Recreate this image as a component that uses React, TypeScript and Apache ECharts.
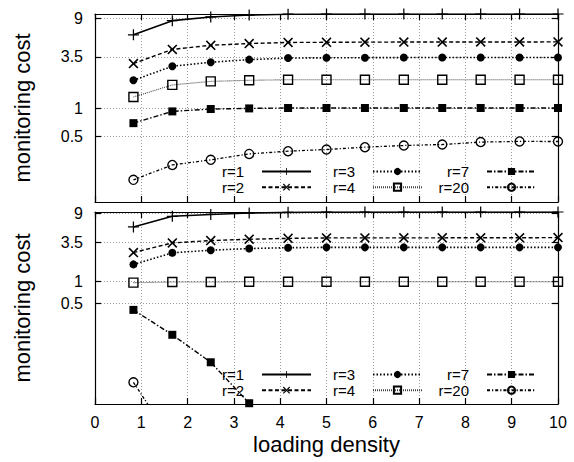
import { useEffect, useRef } from "react";
import * as echarts from "echarts";

// ---------- data ----------
const xValues = [0.83, 1.67, 2.5, 3.33, 4.17, 5, 5.83, 6.67, 7.5, 8.33, 9.17, 10];
const seriesNames = ["r=1", "r=2", "r=3", "r=4", "r=7", "r=20"];

const topR1 = [6.0, 8.5, 9.3, 9.75, 9.95, 10, 10, 10, 10, 10, 10, 10];
const topR2 = [2.97, 4.2, 4.65, 4.85, 4.98, 5.0, 5.02, 5.03, 5.03, 5.04, 5.04, 5.05];
const topR3 = [1.97, 2.78, 3.07, 3.27, 3.4, 3.42, 3.43, 3.44, 3.44, 3.45, 3.45, 3.45];
const topR4 = [1.31, 1.76, 1.92, 1.97, 2.0, 2.0, 2.0, 2.0, 2.0, 2.0, 2.0, 2.0];
const topR7 = [0.69, 0.92, 0.975, 0.99, 1.0, 1.0, 1.0, 1.0, 1.0, 1.0, 1.0, 1.0];
const topR20 = [0.172, 0.248, 0.281, 0.325, 0.347, 0.362, 0.383, 0.399, 0.409, 0.434, 0.441, 0.44];

const botR1 = [5.76, 8.1, 8.6, 9.0, 9.2, 9.3, 9.3, 9.3, 9.3, 9.3, 9.3, 9.3];
const botR2 = [2.54, 3.46, 3.73, 3.89, 4.0, 4.06, 4.06, 4.07, 4.07, 4.08, 4.08, 4.1];
const botR3 = [1.74, 2.52, 2.74, 2.89, 2.97, 3.0, 3.0, 3.0, 3.0, 3.0, 3.0, 3.0];
const botR4 = [0.97, 0.99, 0.99, 1.0, 1.0, 1.0, 1.0, 1.0, 1.0, 1.0, 1.0, 1.0];
const botR7 = [0.406, 0.183, 0.076, 0.0205];
const botR20 = [0.04, 0.006];

const yTickValues = [0.5, 1, 3.5, 9];
const topRange = [0.1, 10];
const bottomRange = [0.02, 9.3];

// ---------- styles ----------
const FONT = "'Liberation Sans', Arial, Helvetica, sans-serif";
const PLUS = "path://M-0.9,-8L0.9,-8L0.9,-0.9L8,-0.9L8,0.9L0.9,0.9L0.9,8L-0.9,8L-0.9,0.9L-8,0.9L-8,-0.9L-0.9,-0.9Z";
const CROSS =
  "path://M-8,-6.2L-6.2,-8L0,-1.8L6.2,-8L8,-6.2L1.8,0L8,6.2L6.2,8L0,1.8L-6.2,8L-8,6.2L-1.8,0Z";

const hollow = { color: "rgba(255,255,255,0)", borderColor: "#000", borderWidth: 1.4 };
const filled = { color: "#000" };

const seriesStyles: any[] = [
  { symbol: PLUS, symbolSize: 11, itemStyle: filled, lineStyle: { type: "solid", width: 1.6, color: "#000" } },
  { symbol: CROSS, symbolSize: 10, itemStyle: filled, lineStyle: { type: [4, 2.5], width: 1.4, color: "#000" } },
  { symbol: "circle", symbolSize: 8, itemStyle: filled, lineStyle: { type: [1.5, 2], width: 1.6, color: "#000" } },
  { symbol: "rect", symbolSize: 9, itemStyle: hollow, lineStyle: { type: [1, 1], width: 1.1, color: "#444" } },
  { symbol: "rect", symbolSize: 8, itemStyle: filled, lineStyle: { type: [5, 2, 1.5, 2], width: 1.4, color: "#000" } },
  { symbol: "circle", symbolSize: 9, itemStyle: hollow, lineStyle: { type: [3, 2, 1.2, 2], width: 1.3, color: "#000" } },
];

const toPairs = (vals: number[]) => vals.map((v, i) => [xValues[i], v]);

export default function App() {
  const ref = useRef<HTMLDivElement>(null);

  useEffect(() => {
    if (!ref.current) return;
    const chart = echarts.init(ref.current, undefined, { renderer: "svg" });

    const grids = [
      { left: 95, right: 16, top: 14, height: 188 },
      { left: 95, right: 16, top: 212, height: 192 },
    ];

    const splitLine = { show: true, lineStyle: { color: "#999", type: [1, 2], width: 1 } };
    const axisLine = { show: true, onZero: false, lineStyle: { color: "#000", width: 1.2 } };
    const tick = { show: true, inside: true, length: 6, lineStyle: { color: "#000", width: 1.2 } };

    const xAxisBase = (gridIndex: number, position: string) => ({
      type: "value",
      gridIndex,
      position,
      min: 0,
      max: 10,
      interval: 1,
      axisLine,
      axisTick: tick,
    });

    const xAxis: any[] = [
      { ...xAxisBase(0, "bottom"), axisLabel: { show: false }, splitLine },
      {
        ...xAxisBase(1, "bottom"),
        splitLine,
        axisLabel: { show: true, color: "#000", fontSize: 16, fontFamily: FONT, margin: 10 },
        name: "loading density",
        nameLocation: "middle",
        nameGap: 29,
        nameTextStyle: { color: "#000", fontSize: 22, fontFamily: FONT },
      },
      { ...xAxisBase(0, "top"), axisLabel: { show: false }, splitLine: { show: false } },
      { ...xAxisBase(1, "top"), axisLabel: { show: false }, splitLine: { show: false } },
    ];

    const yAxisBase = (gridIndex: number, position: string, range: number[]) => ({
      type: "log",
      logBase: 10,
      gridIndex,
      position,
      min: range[0],
      max: range[1],
      axisLine,
      axisTick: { ...tick, customValues: yTickValues },
      minorTick: { show: false },
    });

    const yName = {
      name: "monitoring cost",
      nameLocation: "middle",
      nameGap: 62,
      nameTextStyle: { color: "#000", fontSize: 22, fontFamily: FONT },
    };
    const yLabel = {
      show: true,
      customValues: yTickValues,
      color: "#000",
      fontSize: 16,
      fontFamily: FONT,
      margin: 12,
      formatter: (v: number) => String(v),
    };

    const yAxis: any[] = [
      { ...yAxisBase(0, "left", topRange), axisLabel: yLabel, splitLine, ...yName },
      { ...yAxisBase(1, "left", bottomRange), axisLabel: yLabel, splitLine, ...yName },
      { ...yAxisBase(0, "right", topRange), axisLabel: { show: false }, splitLine: { show: false } },
      { ...yAxisBase(1, "right", bottomRange), axisLabel: { show: false }, splitLine: { show: false } },
    ];

    const topData = [topR1, topR2, topR3, topR4, topR7, topR20];
    const botData = [botR1, botR2, botR3, botR4, botR7, botR20];

    const series: any[] = [];
    [topData, botData].forEach((panel, p) => {
      panel.forEach((vals, i) => {
        series.push({
          type: "line",
          name: seriesNames[i],
          xAxisIndex: p,
          yAxisIndex: p,
          data: toPairs(vals),
          clip: true,
          z: 10 - i,
          ...seriesStyles[i],
        });
      });
    });

    const legendCols = [
      { right: 262, data: ["r=1", "r=2"] },
      { right: 151, data: ["r=3", "r=4"] },
      { right: 37, data: ["r=7", "r=20"] },
    ];
    const legendTops = [164, 367];
    const legend: any[] = [];
    legendTops.forEach((top) => {
      legendCols.forEach((c) => {
        legend.push({
          orient: "vertical",
          align: "right",
          right: c.right,
          top,
          padding: 0,
          itemWidth: 49,
          itemHeight: 9,
          itemGap: 0.7,
          selectedMode: false,
          data: c.data,
          textStyle: {
            color: "#000",
            fontSize: 15,
            fontFamily: FONT,
            lineHeight: 12,
            padding: [0, 13, 0, 0],
          },
        });
      });
    });

    chart.setOption({
      animation: false,
      backgroundColor: "#fff",
      grid: grids,
      xAxis,
      yAxis,
      legend,
      series,
    });

    return () => chart.dispose();
  }, []);

  return (
    <div
      ref={ref}
      style={{ position: "fixed", left: 0, top: 0, width: 574, height: 462 }}
    />
  );
}
